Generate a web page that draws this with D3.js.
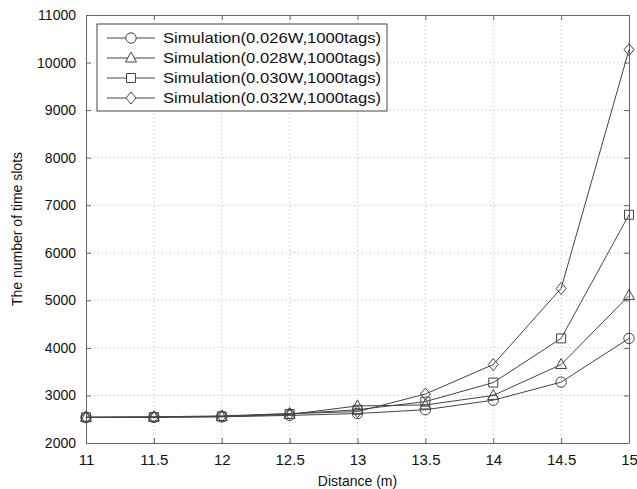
<!DOCTYPE html>
<html>
<head>
<meta charset="utf-8">
<script src="https://cdn.jsdelivr.net/npm/d3@7"></script>
<style>
  body { margin: 0; background: #fff; }
  text { font-family: "Liberation Sans", Arial, sans-serif; fill: #111; }
</style>
</head>
<body>
<script>
// data
const distances = [11, 11.5, 12, 12.5, 13, 13.5, 14, 14.5, 15];
const sim026 = [2540, 2540, 2550, 2580, 2620, 2700, 2900, 3280, 4200];
const sim028 = [2540, 2545, 2555, 2600, 2780, 2800, 3000, 3650, 5100];
const sim030 = [2540, 2545, 2560, 2610, 2700, 2870, 3270, 4200, 6800];
const sim032 = [2540, 2550, 2570, 2620, 2660, 3030, 3650, 5250, 10270];
const seriesNames = ["Simulation(0.026W,1000tags)", "Simulation(0.028W,1000tags)",
  "Simulation(0.030W,1000tags)", "Simulation(0.032W,1000tags)"];
const markers = ["circle", "triangle", "square", "diamond"];
const yTicks = [2000, 3000, 4000, 5000, 6000, 7000, 8000, 9000, 10000, 11000];
const xTicks = [11, 11.5, 12, 12.5, 13, 13.5, 14, 14.5, 15];

const width = 637, height = 489;
const margin = ({top: 15, right: 8, bottom: 46, left: 86});
const series = [sim026, sim028, sim030, sim032];

const svg = d3.select("body").append("svg")
  .attr("width", width)
  .attr("height", height);

const x = d3.scaleLinear().domain([11, 15]).range([margin.left, width - margin.right]);
const y = d3.scaleLinear().domain([2000, 11000]).range([height - margin.bottom, margin.top]);

// dotted grid
svg.append("g")
  .attr("stroke", "#bbb")
  .attr("stroke-dasharray", "1,3")
  .call(g => g.selectAll(".gx").data(xTicks.slice(1, -1)).join("line")
    .attr("x1", d => x(d)).attr("x2", d => x(d))
    .attr("y1", y(2000)).attr("y2", y(11000)))
  .call(g => g.selectAll(".gy").data(yTicks.slice(1, -1)).join("line")
    .attr("class", "gy")
    .attr("x1", x(11)).attr("x2", x(15))
    .attr("y1", d => y(d)).attr("y2", d => y(d)));

// axes with inward ticks on all sides
const axisStyle = size => g => {
  g.select(".domain").attr("stroke", "#666");
  g.selectAll(".tick line").attr("stroke", "#666");
  g.selectAll(".tick text").attr("font-size", size).attr("fill", "#111")
    .attr("font-family", '"Liberation Sans", Arial, sans-serif');
};
svg.append("g")
  .attr("transform", `translate(0,${y(2000)})`)
  .call(d3.axisBottom(x).tickValues(xTicks).tickFormat(d3.format("")).tickSizeInner(-5).tickSizeOuter(0).tickPadding(11))
  .call(axisStyle(15));
svg.append("g")
  .attr("transform", `translate(0,${y(11000)})`)
  .call(d3.axisTop(x).tickValues(xTicks).tickFormat("").tickSizeInner(-5).tickSizeOuter(0))
  .call(axisStyle(15));
svg.append("g")
  .attr("transform", `translate(${x(11)},0)`)
  .call(d3.axisLeft(y).tickValues(yTicks).tickFormat(d3.format("d")).tickSizeInner(-5).tickSizeOuter(0).tickPadding(10))
  .call(axisStyle(14));
svg.append("g")
  .attr("transform", `translate(${x(15)},0)`)
  .call(d3.axisRight(y).tickValues(yTicks).tickFormat("").tickSizeInner(-5).tickSizeOuter(0))
  .call(axisStyle(14));

// marker shapes
function markerPath(type) {
  const r = 5;
  if (type === "circle") return d3.symbol(d3.symbolCircle, 85)();
  if (type === "triangle") return `M0,${-r - 1}L${r + 0.5},${r - 1}L${-r - 0.5},${r - 1}Z`;
  if (type === "square") return `M${-r + 0.5},${-r + 0.5}H${r - 0.5}V${r - 0.5}H${-r + 0.5}Z`;
  return `M0,${-r - 1}L${r},0L0,${r + 1}L${-r},0Z`;
}

const line = d3.line().x((d, i) => x(distances[i])).y(d => y(d));

series.forEach((vals, k) => {
  svg.append("path")
    .datum(vals)
    .attr("fill", "none")
    .attr("stroke", "#444")
    .attr("stroke-width", 1)
    .attr("d", line);
  svg.append("g").selectAll("path")
    .data(vals)
    .join("path")
    .attr("transform", (d, i) => `translate(${x(distances[i])},${y(d)})`)
    .attr("d", markerPath(markers[k]))
    .attr("fill", "none")
    .attr("stroke", "#444")
    .attr("stroke-width", 1);
});

// legend
const leg = svg.append("g").attr("transform", "translate(97,24)");
leg.append("rect")
  .attr("width", 290).attr("height", 87)
  .attr("fill", "#fff").attr("stroke", "#444");
seriesNames.forEach((name, k) => {
  const ly = 14 + k * 20;
  leg.append("line").attr("x1", 10).attr("x2", 58).attr("y1", ly).attr("y2", ly).attr("stroke", "#444");
  leg.append("path").attr("transform", `translate(34,${ly})`)
    .attr("d", markerPath(markers[k])).attr("fill", "#fff").attr("stroke", "#444");
  leg.append("text").attr("x", 66).attr("y", ly + 5).attr("font-size", 15)
    .attr("textLength", 218).attr("lengthAdjust", "spacingAndGlyphs")
    .text(name);
});

// axis labels
svg.append("text")
  .attr("x", x(13)).attr("y", 486)
  .attr("text-anchor", "middle").attr("font-size", 14)
  .text("Distance (m)");
svg.append("text")
  .attr("transform", `translate(22,${(y(2000) + y(11000)) / 2}) rotate(-90)`)
  .attr("text-anchor", "middle").attr("font-size", 14)
  .text("The number of time slots");
</script>
</body>
</html>
